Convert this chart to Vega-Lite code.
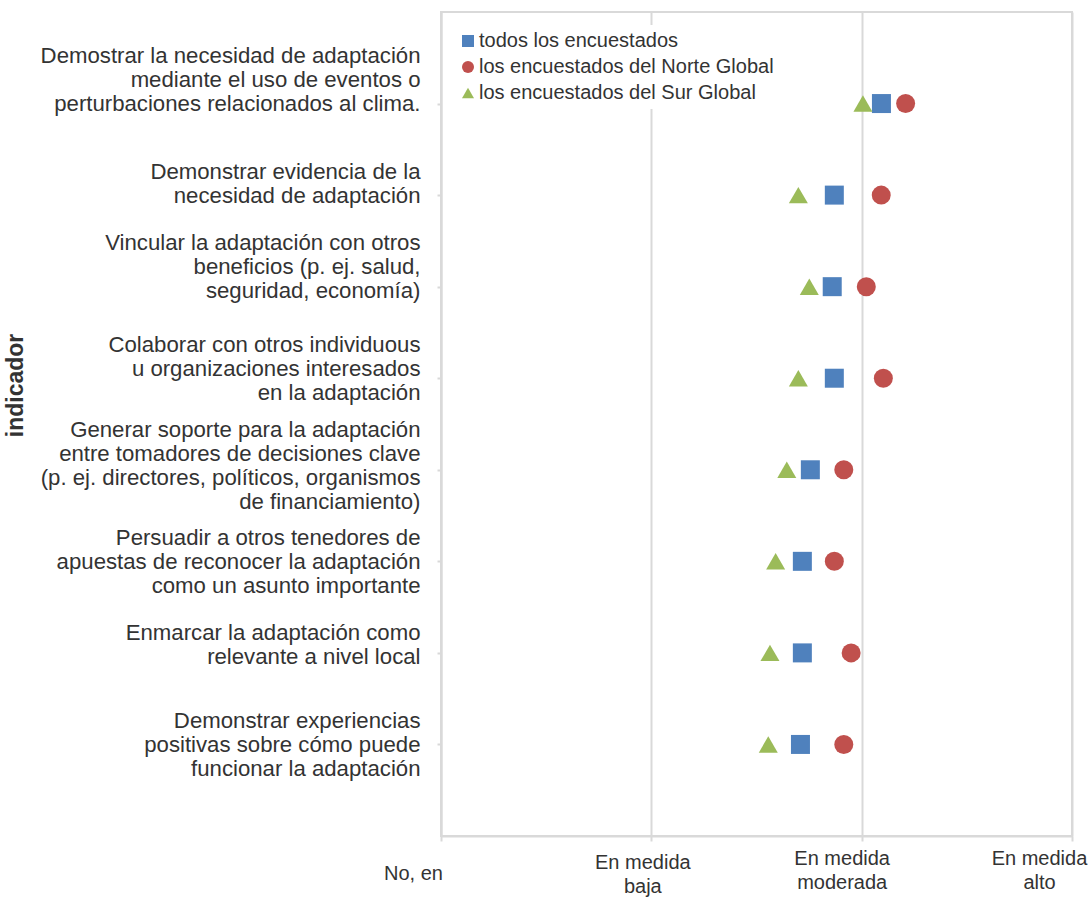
{
  "$schema": "https://vega.github.io/schema/vega-lite/v6.json",
  "width": 631,
  "height": 824,
  "autosize": "none",
  "padding": {"left": 441, "top": 12, "right": 18, "bottom": 61},
  "background": "white",
  "config": {
    "font": "Liberation Sans",
    "view": {"stroke": "#d9d9d9", "strokeWidth": 2}
  },
  "data": {
    "values": [
      {"indicador": "Demostrar la necesidad de adaptación\nmediante el uso de eventos o\nperturbaciones relacionados al clima.", "grupo": "todos los encuestados", "valor": 2.094},
      {"indicador": "Demostrar la necesidad de adaptación\nmediante el uso de eventos o\nperturbaciones relacionados al clima.", "grupo": "los encuestados del Norte Global", "valor": 2.209},
      {"indicador": "Demostrar la necesidad de adaptación\nmediante el uso de eventos o\nperturbaciones relacionados al clima.", "grupo": "los encuestados del Sur Global", "valor": 2.006},
      {"indicador": "Demonstrar evidencia de la\nnecesidad de adaptación", "grupo": "todos los encuestados", "valor": 1.870},
      {"indicador": "Demonstrar evidencia de la\nnecesidad de adaptación", "grupo": "los encuestados del Norte Global", "valor": 2.093},
      {"indicador": "Demonstrar evidencia de la\nnecesidad de adaptación", "grupo": "los encuestados del Sur Global", "valor": 1.699},
      {"indicador": "Vincular la adaptación con otros\nbeneficios (p. ej. salud,\nseguridad, economía)", "grupo": "todos los encuestados", "valor": 1.860},
      {"indicador": "Vincular la adaptación con otros\nbeneficios (p. ej. salud,\nseguridad, economía)", "grupo": "los encuestados del Norte Global", "valor": 2.022},
      {"indicador": "Vincular la adaptación con otros\nbeneficios (p. ej. salud,\nseguridad, economía)", "grupo": "los encuestados del Sur Global", "valor": 1.751},
      {"indicador": "Colaborar con otros individuous\nu organizaciones interesados\nen la adaptación", "grupo": "todos los encuestados", "valor": 1.870},
      {"indicador": "Colaborar con otros individuous\nu organizaciones interesados\nen la adaptación", "grupo": "los encuestados del Norte Global", "valor": 2.103},
      {"indicador": "Colaborar con otros individuous\nu organizaciones interesados\nen la adaptación", "grupo": "los encuestados del Sur Global", "valor": 1.699},
      {"indicador": "Generar soporte para la adaptación\nentre tomadores de decisiones clave\n(p. ej. directores, políticos, organismos\nde financiamiento)", "grupo": "todos los encuestados", "valor": 1.756},
      {"indicador": "Generar soporte para la adaptación\nentre tomadores de decisiones clave\n(p. ej. directores, políticos, organismos\nde financiamiento)", "grupo": "los encuestados del Norte Global", "valor": 1.915},
      {"indicador": "Generar soporte para la adaptación\nentre tomadores de decisiones clave\n(p. ej. directores, políticos, organismos\nde financiamiento)", "grupo": "los encuestados del Sur Global", "valor": 1.644},
      {"indicador": "Persuadir a otros tenedores de\napuestas de reconocer la adaptación\ncomo un asunto importante", "grupo": "todos los encuestados", "valor": 1.718},
      {"indicador": "Persuadir a otros tenedores de\napuestas de reconocer la adaptación\ncomo un asunto importante", "grupo": "los encuestados del Norte Global", "valor": 1.870},
      {"indicador": "Persuadir a otros tenedores de\napuestas de reconocer la adaptación\ncomo un asunto importante", "grupo": "los encuestados del Sur Global", "valor": 1.591},
      {"indicador": "Enmarcar la adaptación como\nrelevante a nivel local", "grupo": "todos los encuestados", "valor": 1.718},
      {"indicador": "Enmarcar la adaptación como\nrelevante a nivel local", "grupo": "los encuestados del Norte Global", "valor": 1.950},
      {"indicador": "Enmarcar la adaptación como\nrelevante a nivel local", "grupo": "los encuestados del Sur Global", "valor": 1.564},
      {"indicador": "Demonstrar experiencias\npositivas sobre cómo puede\nfuncionar la adaptación", "grupo": "todos los encuestados", "valor": 1.709},
      {"indicador": "Demonstrar experiencias\npositivas sobre cómo puede\nfuncionar la adaptación", "grupo": "los encuestados del Norte Global", "valor": 1.915},
      {"indicador": "Demonstrar experiencias\npositivas sobre cómo puede\nfuncionar la adaptación", "grupo": "los encuestados del Sur Global", "valor": 1.556}
    ]
  },
  "mark": {"type": "point", "filled": true, "size": 361, "opacity": 1},
  "encoding": {
    "x": {
      "field": "valor",
      "type": "quantitative",
      "scale": {"domain": [0, 3], "nice": false, "zero": false},
      "axis": {
        "title": null,
        "values": [0, 1, 2, 3],
        "labelExpr": "datum.value == 0 ? 'No, en' : datum.value == 1 ? ['En medida', 'baja'] : datum.value == 2 ? ['En medida', 'moderada'] : ['En medida', 'alto']",
        "labelFontSize": 20,
        "labelColor": "#333333",
        "labelLineHeight": 24,
        "labelBaseline": "top",
        "labelPadding": {"condition": [{"test": "datum.value == 0", "value": 22}, {"test": "datum.value == 1", "value": 11}], "value": 7},
        "labelOffset": {"condition": [{"test": "datum.value == 0", "value": -28}, {"test": "datum.value == 1", "value": -9}, {"test": "datum.value == 2", "value": -20}], "value": -33},
        "labelFlush": false,
        "labelOverlap": false,
        "domainColor": "#d9d9d9",
        "domainWidth": 2,
        "tickColor": "#d9d9d9",
        "tickWidth": 2,
        "tickSize": 5,
        "gridColor": "#d9d9d9",
        "gridWidth": 2
      }
    },
    "y": {
      "field": "indicador",
      "type": "nominal",
      "sort": null,
      "scale": {"type": "point", "padding": 1},
      "axis": {
        "title": "indicador",
        "titleFontSize": 23,
        "titleFontWeight": "bold",
        "titleColor": "#333333",
        "titleX": -414,
        "titleY": 373,
        "labelExpr": "split(datum.label, '\\n')",
        "labelFontSize": 22.2,
        "labelColor": "#333333",
        "labelLineHeight": 24,
        "labelPadding": 17,
        "labelLimit": 500,
        "labelOffset": {"condition": [
          {"test": "indexof(datum.value, 'Demostrar la') == 0", "value": -48},
          {"test": "indexof(datum.value, 'Vincular') == 0", "value": -44},
          {"test": "indexof(datum.value, 'Colaborar') == 0", "value": -34},
          {"test": "indexof(datum.value, 'Generar') == 0", "value": -40},
          {"test": "indexof(datum.value, 'Enmarcar') == 0", "value": -20}
        ], "value": -24},
        "domainColor": "#d9d9d9",
        "domainWidth": 2,
        "tickColor": "#d9d9d9",
        "tickWidth": 2,
        "tickSize": 4,
        "gridColor": "#d9d9d9",
        "gridWidth": 2
      }
    },
    "color": {
      "field": "grupo",
      "type": "nominal",
      "scale": {
        "domain": ["todos los encuestados", "los encuestados del Norte Global", "los encuestados del Sur Global"],
        "range": ["#4F81BD", "#C0504D", "#9BBB59"]
      },
      "legend": {
        "title": null,
        "orient": "none",
        "legendX": 11,
        "legendY": 13,
        "fillColor": "white",
        "padding": 6,
        "rowPadding": 6,
        "labelFontSize": 20,
        "labelColor": "#333333",
        "labelOffset": 1,
        "labelLimit": 400,
        "symbolSize": 144,
        "symbolStrokeWidth": 0,
        "symbolOpacity": 1
      }
    },
    "shape": {
      "field": "grupo",
      "type": "nominal",
      "scale": {
        "domain": ["todos los encuestados", "los encuestados del Norte Global", "los encuestados del Sur Global"],
        "range": ["square", "circle", "triangle-up"]
      }
    }
  }
}
